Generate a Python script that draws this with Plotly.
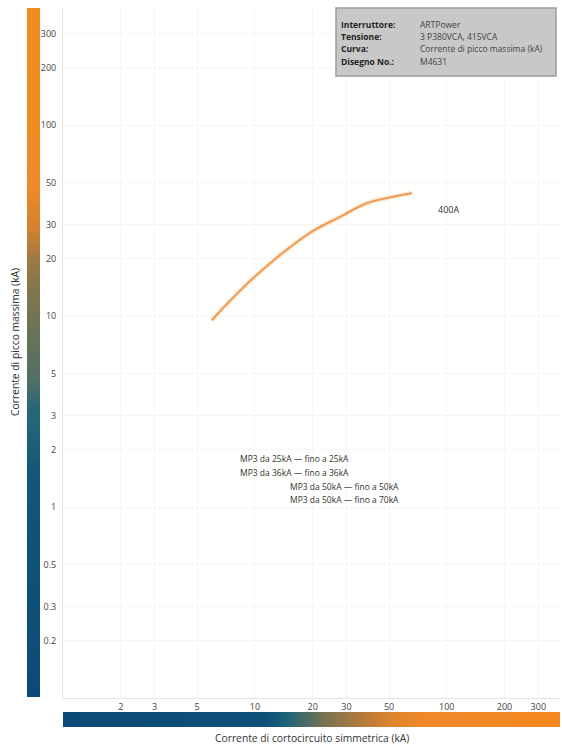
import plotly.graph_objects as go
import math

# ---- data ----
current_ka = [5.95, 9.8, 19.3, 27.7, 38.3, 48.7, 65.8]
peak_ka = [9.5, 15.8, 27.2, 33.0, 39.0, 41.5, 44.0]
curve_label = "400A"
label_x, label_y = 88, 36
x_ticks = [2, 3, 5, 10, 20, 30, 50, 100, 200, 300]
y_ticks = [0.2, 0.3, 0.5, 1, 2, 3, 5, 10, 20, 30, 50, 100, 200, 300]
mp3_lines = ["MP3 da 25kA — fino a 25kA", "MP3 da 36kA — fino a 36kA",
             "MP3 da 50kA — fino a 50kA", "MP3 da 50kA — fino a 70kA"]
info_keys = ["Interruttore:", "Tensione:", "Curva:", "Disegno No.:"]
info_vals = ["ARTPower", "3 P380VCA, 415VCA", "Corrente di picco massima (kA)", "M4631"]

W, H = 562, 746
FONT = "Open Sans"

def fx(p):
    return p / W

def fy(p):
    return 1 - p / H

PL, PR, PT, PB = 63, 560, 8, 698

fig = go.Figure()

fig.add_trace(go.Scatter(
    x=current_ka, y=peak_ka, mode="lines",
    line=dict(color="rgba(246,170,100,0.30)", width=4.5, shape="spline"),
    hoverinfo="skip", showlegend=False))
fig.add_trace(go.Scatter(
    x=current_ka, y=peak_ka, mode="lines",
    line=dict(color="#F0964A", width=1.8, shape="spline"),
    showlegend=False))

# gradient bars (decorative)
steps = [i / 150 for i in range(151)]
left_scale = [[0, "#0B4A76"], [0.315, "#125678"], [0.417, "#276878"], [0.46, "#526F64"],
              [0.576, "#7A7650"], [0.634, "#9A7A45"], [0.68, "#D4822F"], [0.74, "#EE8A27"],
              [1, "#F28A22"]]
fig.add_trace(go.Heatmap(z=[[s] for s in steps], x=[0], y=steps, xaxis="x2", yaxis="y2",
                         colorscale=left_scale, showscale=False, hoverinfo="skip",
                         zmin=0, zmax=1))
bottom_scale = [[0, "#0B4A76"], [0.41, "#0D5078"], [0.45, "#1E6478"], [0.53, "#7A7350"],
                [0.60, "#B27B3C"], [0.66, "#DC842D"], [0.73, "#F0882A"], [1, "#F5891F"]]
fig.add_trace(go.Heatmap(z=[steps], x=steps, y=[0], xaxis="x3", yaxis="y3",
                         colorscale=bottom_scale, showscale=False, hoverinfo="skip",
                         zmin=0, zmax=1))

annotations = []
annotations.append(dict(x=math.log10(label_x), y=math.log10(label_y), xref="x", yref="y",
                        text=curve_label, showarrow=False, xanchor="left", yanchor="middle",
                        font=dict(family=FONT, size=9, color="#333")))

mp3_pos = [(240, 458), (240, 472), (290, 486), (290, 499)]
for txt, (px, py) in zip(mp3_lines, mp3_pos):
    annotations.append(dict(x=fx(px), y=fy(py), xref="paper", yref="paper",
                            text=txt, showarrow=False, xanchor="left", yanchor="middle",
                            borderpad=0, borderwidth=0,
                            font=dict(family=FONT, size=8.5, color="#333")))

for i, (k, v) in enumerate(zip(info_keys, info_vals)):
    py = 24 + i * 12.4
    annotations.append(dict(x=fx(341), y=fy(py), xref="paper", yref="paper",
                            text="<b>" + k + "</b>", showarrow=False, xanchor="left",
                            yanchor="middle", borderpad=0, borderwidth=0,
                            font=dict(family=FONT, size=8.5, color="#222")))
    annotations.append(dict(x=fx(420), y=fy(py), xref="paper", yref="paper",
                            text=v, showarrow=False, xanchor="left", yanchor="middle",
                            borderpad=0, borderwidth=0,
                            font=dict(family=FONT, size=8.5, color="#444")))

annotations.append(dict(x=fx((PL + PR) / 2), y=fy(738), xref="paper", yref="paper",
                        text="Corrente di cortocircuito simmetrica (kA)", showarrow=False,
                        xanchor="center", yanchor="middle",
                        font=dict(family=FONT, size=10.3, color="#333")))
annotations.append(dict(x=fx(15), y=fy(342), xref="paper", yref="paper",
                        text="Corrente di picco massima (kA)", showarrow=False, textangle=-90,
                        xanchor="center", yanchor="middle",
                        font=dict(family=FONT, size=10.3, color="#333")))

shapes = [dict(type="rect", xref="paper", yref="paper",
               x0=fx(336), x1=fx(556), y0=fy(76), y1=fy(8),
               fillcolor="#C8C8C8", line=dict(color="#9C9C9C", width=1.5), layer="above")]

hidden = dict(visible=False, showgrid=False, zeroline=False, fixedrange=True)

fig.update_layout(
    width=W, height=H,
    margin=dict(l=0, r=0, t=0, b=0, autoexpand=False),
    paper_bgcolor="white", plot_bgcolor="#FFFFFD",
    font=dict(family=FONT, size=9, color="#444"),
    xaxis=dict(type="log", range=[0, 2.59], domain=[fx(PL), fx(PR)], tickvals=x_ticks,
               ticktext=[str(v) for v in x_ticks], ticks="", showline=True,
               linecolor="#E4E4E4", showgrid=True, gridcolor="#F6F6F6",
               zeroline=False, tickfont=dict(size=9, color="#444"), automargin=False,
               anchor="y"),
    yaxis=dict(type="log", range=[-1.0, 2.613], domain=[fy(PB), fy(PT)], tickvals=y_ticks,
               ticktext=[("%g" % v) for v in y_ticks], ticks="", showline=True,
               linecolor="#E4E4E4", showgrid=True, gridcolor="#F6F6F6",
               zeroline=False, tickfont=dict(size=9, color="#444"), ticklabelstandoff=4,
               automargin=False, anchor="x"),
    xaxis2=dict(domain=[fx(27), fx(40)], anchor="y2", **hidden),
    yaxis2=dict(domain=[fy(697), fy(8)], anchor="x2", **hidden),
    xaxis3=dict(domain=[fx(PL), fx(PR)], anchor="y3", **hidden),
    yaxis3=dict(domain=[fy(727), fy(712)], anchor="x3", **hidden),
    annotations=annotations, shapes=shapes,
)

fig.write_html("out.html", config={"displayModeBar": False},
               post_script="document.body.style.margin='0';")
